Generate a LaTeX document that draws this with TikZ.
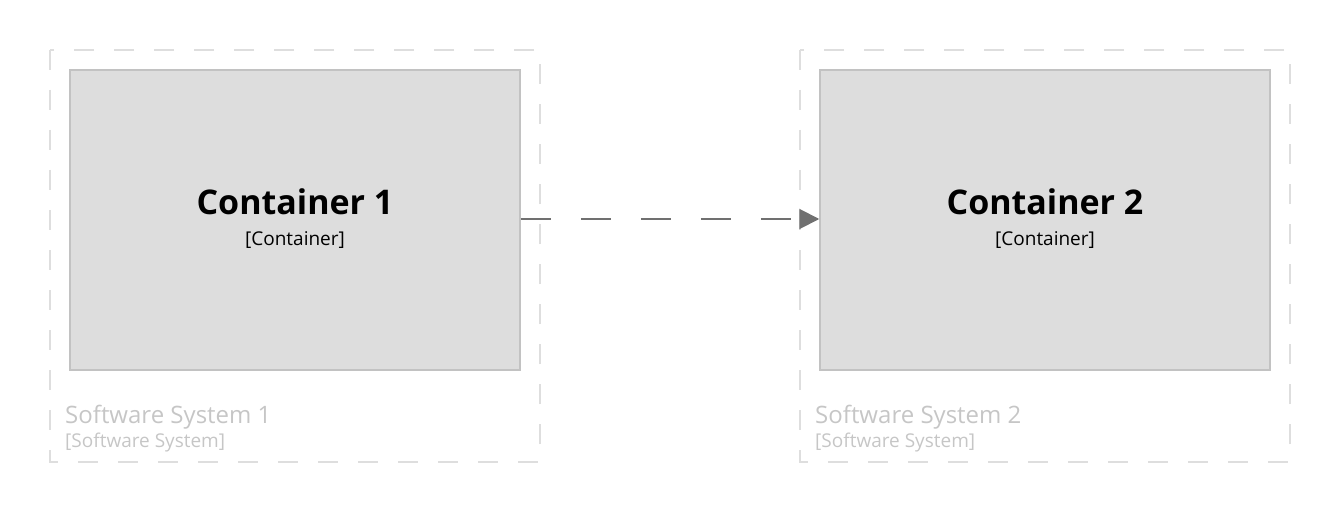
\documentclass[tikz,border=0pt]{standalone}
\usepackage{fontspec}
\setmainfont{Open Sans}
\usetikzlibrary{arrows.meta}
\definecolor{boxfill}{HTML}{DDDDDD}
\definecolor{boxline}{HTML}{C2C2C2}
\definecolor{bndline}{HTML}{DEDEDE}
\definecolor{bndtext}{HTML}{C6C6C6}
\definecolor{relline}{HTML}{707070}
\tikzset{
  boundary/.style={draw=bndline, line width=2pt, dash pattern=on 20pt off 20pt},
  container/.style={draw=boxline, fill=boxfill, line width=1.5pt, minimum width=450pt, minimum height=300pt, inner sep=0pt},
  ctitle/.style={font=\fontsize{34}{40}\selectfont\bfseries},
  csub/.style={font=\fontsize{19}{23}\selectfont},
  btitle/.style={font=\fontsize{24}{29}\selectfont, text=bndtext, anchor=base west, inner sep=0pt},
  bsub/.style={font=\fontsize{19}{23}\selectfont, text=bndtext, anchor=base west, inner sep=0pt},
  rel/.style={draw=relline, line width=2pt, dash pattern=on 30pt off 30pt, -{Triangle[length=20pt,width=20pt]}}
}
\begin{document}
\begin{tikzpicture}[x=1pt,y=-1pt]
\useasboundingbox (0,0) rectangle (1340,513);
% boundaries
\draw[boundary] (50,50) rectangle (540,462);
\draw[boundary] (800,50) rectangle (1290,462);
\node[btitle] (b1t) at (65,423) {Software System 1};
\node[bsub] (b1s) at (65,447) {[Software System]};
\node[btitle] (b2t) at (815,423) {Software System 2};
\node[bsub] (b2s) at (815,447) {[Software System]};
% containers
\node[container] (c1) at (295,220) {};
\node[container] (c2) at (1045,220) {};
\node[ctitle, anchor=base] (c1t) at (295,214) {Container 1};
\node[csub, anchor=base] (c1s) at (295,245) {[Container]};
\node[ctitle, anchor=base] (c2t) at (1045,214) {Container 2};
\node[csub, anchor=base] (c2s) at (1045,245) {[Container]};
% relation
\draw[rel] (c1.east |- 0,219) -- (c2.west |- 0,219);
\end{tikzpicture}
\end{document}
